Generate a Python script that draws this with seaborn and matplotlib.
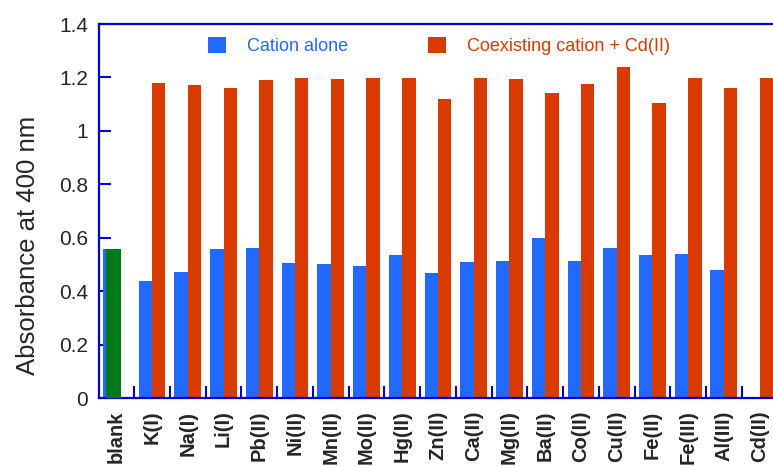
import numpy as np
import pandas as pd
import seaborn as sns
import matplotlib.pyplot as plt
from matplotlib.ticker import FuncFormatter

# ---- data -------------------------------------------------------------------
ions = ['blank', 'K(I)', 'Na(I)', 'Li(I)', 'Pb(II)', 'Ni(II)', 'Mn(II)', 'Mo(II)',
        'Hg(II)', 'Zn(II)', 'Ca(II)', 'Mg(II)', 'Ba(II)', 'Co(II)', 'Cu(II)',
        'Fe(II)', 'Fe(III)', 'Al(III)', 'Cd(II)']
alone = [0.558, 0.438, 0.472, 0.558, 0.562, 0.505, 0.502, 0.494,
         0.535, 0.468, 0.509, 0.513, 0.599, 0.513, 0.562,
         0.535, 0.539, 0.479, 0.0]
coexist = [np.nan, 1.179, 1.172, 1.161, 1.190, 1.198, 1.194, 1.198,
           1.198, 1.119, 1.198, 1.194, 1.142, 1.175, 1.239,
           1.104, 1.198, 1.161, 1.198]
blank_value = 0.558
series = ['Cation alone', 'Coexisting cation + Cd(II)']

df = pd.DataFrame({
    'ion': ions * 2,
    'series': [series[0]] * len(ions) + [series[1]] * len(ions),
    'value': alone + coexist,
})

# ---- style -------------------------------------------------------------------
blue = '#2269FF'
red = '#D83A00'
green = '#007A18'
axcol = '#0000D0'

sns.set_theme(style='white')
plt.rcParams['font.family'] = ['Liberation Sans', 'DejaVu Sans']

fig = plt.figure(figsize=(7.73, 4.66), dpi=100)
ax = fig.add_axes([99/773, 1 - 398/466, 674/773, 374/466])

sns.barplot(data=df, x='ion', y='value', hue='series', order=ions,
            hue_order=series, palette=[blue, red], width=0.75,
            saturation=1, errorbar=None, linewidth=0, ax=ax)

# blank reference bar drawn over its slot
ax.bar(-0.08, blank_value, width=0.42, color=green, linewidth=0, zorder=3)

ax.set_xlim(-0.485, 18.375)
ax.set_ylim(0, 1.4)
ax.set_yticks(np.arange(0, 1.41, 0.2))
ax.yaxis.set_major_formatter(FuncFormatter(lambda v, p: f'{v:g}'))

ax.set_xticks(range(len(ions)))
ax.set_xticklabels(ions, rotation=90, fontweight='bold', fontsize=14.5)
ax.set_xticks(np.arange(0.5, 18.01, 0.5), minor=True)
ax.tick_params(axis='x', which='major', length=0, pad=9)
ax.tick_params(axis='x', which='minor', direction='in', length=8.6,
               width=1.5, color=axcol, bottom=True)
ax.tick_params(axis='y', direction='in', length=8.6, width=1.5,
               color=axcol, labelsize=15, pad=8, left=True)

ax.set_xlabel('')
ax.set_ylabel('Absorbance at 400 nm', fontsize=18.5)
ax.yaxis.set_label_coords(-0.0875, 0.409)

for side in ['left', 'bottom', 'top']:
    ax.spines[side].set_color(axcol)
    ax.spines[side].set_linewidth(1.6)
ax.spines['right'].set_visible(False)

handles, labels = ax.get_legend_handles_labels()
ax.get_legend().remove()
leg = fig.legend(handles, labels, loc='center left',
                 bbox_to_anchor=(208/773, 1 - 46/466), ncol=2, frameon=False,
                 fontsize=13, handlelength=1.0, handleheight=1.0,
                 handletextpad=1.17, columnspacing=4.4, borderpad=0,
                 borderaxespad=0)
for t, c in zip(leg.get_texts(), [blue, red]):
    t.set_color(c)

fig.savefig('out.png', dpi=100)
